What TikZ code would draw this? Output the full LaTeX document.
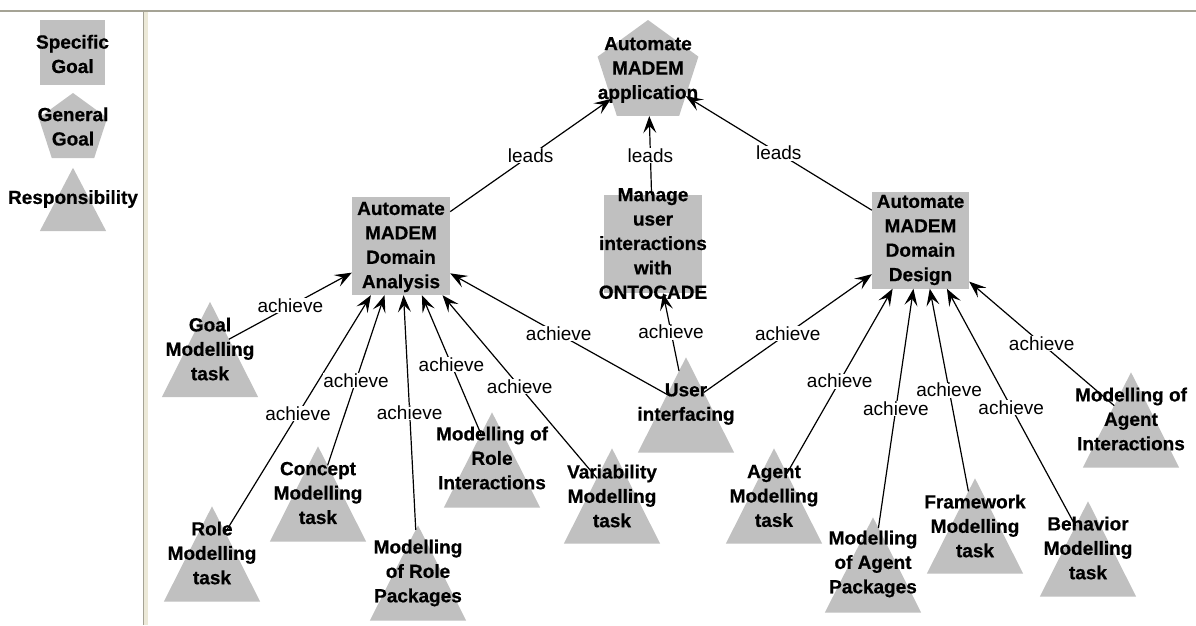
\documentclass[tikz,border=0pt]{standalone}
\usepackage{fontspec}
\setmainfont{Liberation Sans}[BoldFeatures={FakeBold=0.6}]
\usetikzlibrary{shapes.geometric,arrows.meta}
\makeatletter
\newif\iftribase
\pgfdeclareshape{resptri}{%
  \inheritsavedanchors[from=rectangle]%
  \inheritanchor[from=rectangle]{center}%
  \inheritanchor[from=rectangle]{text}%
  \inheritanchor[from=rectangle]{north}%
  \inheritanchor[from=rectangle]{south}%
  \backgroundpath{%
    \southwest \pgf@xa=\pgf@x \pgf@ya=\pgf@y
    \northeast \pgf@xb=\pgf@x \pgf@yb=\pgf@y
    \pgf@xc=.5\pgf@xa \advance\pgf@xc by .5\pgf@xb
    \pgfpathmoveto{\pgfqpoint{\pgf@xa}{\pgf@ya}}%
    \pgfpathlineto{\pgfqpoint{\pgf@xb}{\pgf@ya}}%
    \pgfpathlineto{\pgfqpoint{\pgf@xc}{\pgf@yb}}%
    \pgfpathclose
  }%
  \anchorborder{%
    \edef\tri@dx{\strip@pt\pgf@x}\edef\tri@dy{\strip@pt\pgf@y}%
    \southwest \pgf@xa=\pgf@x \pgf@ya=\pgf@y
    \northeast \pgf@xb=\pgf@x \pgf@yb=\pgf@y
    \pgf@xc=.5\pgf@xa \advance\pgf@xc by .5\pgf@xb
    \pgf@yc=.5\pgf@ya \advance\pgf@yc by .5\pgf@yb
    \advance\pgf@xb by -\pgf@xc
    \advance\pgf@yb by -\pgf@yc
    \edef\tri@cx{\the\pgf@xc}\edef\tri@cy{\the\pgf@yc}%
    \edef\tri@w{\strip@pt\pgf@xb}\edef\tri@h{\strip@pt\pgf@yb}%
    \pgfmathsetmacro\tri@m{max(abs(\tri@dx),abs(\tri@dy))}%
    \ifdim\tri@m pt<0.001pt
      \pgf@x=\tri@cx \pgf@y=\tri@cy
    \else
      \pgfmathsetmacro\tri@dx{(\tri@dx)/\tri@m}%
      \pgfmathsetmacro\tri@dy{(\tri@dy)/\tri@m}%
      \tribasefalse
      \ifdim\tri@dy pt<-0.001pt
        \pgfmathsetmacro\tri@t{-\tri@h/(\tri@dy)}%
        \pgfmathsetmacro\tri@x{abs(\tri@t*(\tri@dx))}%
        \ifdim\tri@x pt>\tri@w pt\relax\else\tribasetrue\fi
      \fi
      \iftribase\else
        \pgfmathsetmacro\tri@t{\tri@w*\tri@h/(2*\tri@h*abs(\tri@dx)+\tri@w*(\tri@dy))}%
      \fi
      \pgf@x=\tri@t pt \pgf@x=\tri@dx\pgf@x \advance\pgf@x by \tri@cx
      \pgf@y=\tri@t pt \pgf@y=\tri@dy\pgf@y \advance\pgf@y by \tri@cy
    \fi
  }%
}
\makeatother
\definecolor{shapegray}{HTML}{C0C0C0}
\definecolor{framedark}{HTML}{A5A395}
\definecolor{framelight}{HTML}{ECE9D8}
\begin{document}
\begin{tikzpicture}[x=1pt,y=-1pt,
  sgoal/.style={rectangle, fill=shapegray, inner sep=0, minimum width=98pt, minimum height=98pt},
  ggoal/.style={regular polygon, regular polygon sides=5, fill=shapegray, inner sep=0, minimum size=106pt},
  resp/.style={resptri, fill=shapegray, inner sep=0, minimum width=96pt, minimum height=95pt},
  ttl/.style={font=\bfseries\fontsize{19}{24.4}\selectfont, align=center, inner sep=0},
  lbl/.style={font=\fontsize{19}{22}\selectfont, fill=white, inner sep=0.5pt},
  conn/.style={-{Stealth[length=17pt,width=13pt,inset=7pt]}, line width=1.2pt, draw=black}]
\useasboundingbox (0,0) rectangle (1196,625);
\fill[white] (0,0) rectangle (1196,625);
% frame
\fill[framelight] (143,11) rectangle (148,625);
\draw[framedark, line width=1pt] (143,11) -- (143,625);
\draw[framedark, line width=1.5pt] (0,11) -- (1196,11);

% legend
\node[sgoal, minimum width=65pt, minimum height=65pt] (lgS) at (72.5,52) {};
\node[ggoal, minimum size=72pt] (lgG) at (73,129) {};
\node[resp, minimum width=66pt, minimum height=63pt] (lgR) at (73,199.5) {};
\node[ttl] (lgSt) at (72.5,54) {Specific\\Goal};
\node[ttl] (lgGt) at (73,126.5) {General\\Goal};
\node[ttl] (lgRt) at (73,199) {Responsibility};

% goals
\node[ggoal] (app) at (648,73) {};
\node[sgoal] (da) at (401,246) {};
\node[sgoal] (mng) at (653,244) {};
\node[sgoal, minimum width=97pt, minimum height=97pt] (dsg) at (920.5,240) {};

% responsibilities
\node[resp] (goal) at (210,349.5) {};
\node[resp] (role) at (212,554) {};
\node[resp] (cpt) at (318,494) {};
\node[resp] (rpk) at (418,573) {};
\node[resp] (rint) at (492,460) {};
\node[resp] (var) at (612,496) {};
\node[resp] (usr) at (686,405) {};
\node[resp] (agt) at (774,496) {};
\node[resp] (apk) at (873,565) {};
\node[resp] (fwk) at (975,526) {};
\node[resp] (beh) at (1088,549) {};
\node[resp] (aint) at (1131,420) {};

% connectors
\draw[conn] (da) -- node[lbl] (l1) {leads} (app);
\draw[conn] (mng) -- node[lbl] (l2) {leads} (app);
\draw[conn] (dsg) -- node[lbl] (l3) {leads} (app);
\draw[conn] (goal) -- node[lbl] (l4) {achieve} (da);
\draw[conn] (role) -- node[lbl] (l5) {achieve} (da);
\draw[conn] (cpt) -- node[lbl] (l6) {achieve} (da);
\draw[conn] (rpk) -- node[lbl] (l7) {achieve} (da);
\draw[conn] (rint) -- node[lbl] (l8) {achieve} (da);
\draw[conn] (var) -- node[lbl] (l9) {achieve} (da);
\draw[conn] (usr) -- node[lbl] (l10) {achieve} (da);
\draw[conn] (usr) -- node[lbl] (l11) {achieve} (mng);
\draw[conn] (usr) -- node[lbl] (l12) {achieve} (dsg);
\draw[conn] (agt) -- node[lbl] (l13) {achieve} (dsg);
\draw[conn] (apk) -- node[lbl] (l14) {achieve} (dsg);
\draw[conn] (fwk) -- node[lbl] (l15) {achieve} (dsg);
\draw[conn] (beh) -- node[lbl] (l16) {achieve} (dsg);
\draw[conn] (aint) -- node[lbl] (l17) {achieve} (dsg);

% texts
\node[ttl] (appT) at (648,70) {Automate\\MADEM\\application};
\node[ttl] (daT) at (401,247) {Automate\\MADEM\\Domain\\Analysis};
\node[ttl] (mngT) at (653,243.5) {Manage\\user\\interactions\\with\\ONTOCADE};
\node[ttl] (dsgT) at (920.5,240) {Automate\\MADEM\\Domain\\Design};
\node[ttl] (goalT) at (210,349) {Goal\\Modelling\\task};
\node[ttl] (roleT) at (212,553) {Role\\Modelling\\task};
\node[ttl] (cptT) at (318,493) {Concept\\Modelling\\task};
\node[ttl] (rpkT) at (418,573) {Modelling\\of Role\\Packages};
\node[ttl] (rintT) at (492,458) {Modelling of\\Role\\Interactions};
\node[ttl] (varT) at (612,496) {Variability\\Modelling\\task};
\node[ttl] (usrT) at (686,404) {User\\interfacing};
\node[ttl] (agtT) at (774,496) {Agent\\Modelling\\task};
\node[ttl] (apkT) at (873,564) {Modelling\\of Agent\\Packages};
\node[ttl] (fwkT) at (975,526) {Framework\\Modelling\\task};
\node[ttl] (behT) at (1088,548) {Behavior\\Modelling\\task};
\node[ttl] (aintT) at (1131,419) {Modelling of\\Agent\\Interactions};
\end{tikzpicture}
\end{document}
